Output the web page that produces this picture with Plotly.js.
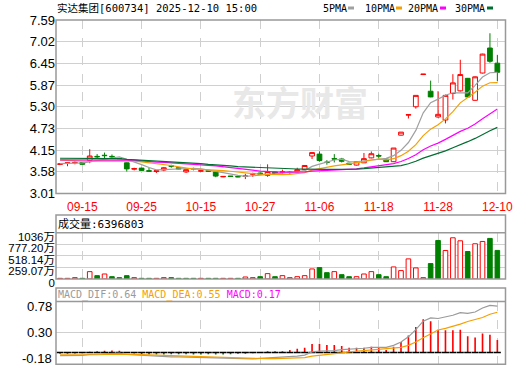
<!DOCTYPE html>
<html><head><meta charset="utf-8">
<script src="https://cdn.plot.ly/plotly-3.0.1.min.js"></script>
<style>html,body{margin:0;padding:0;background:#fff}#c{width:520px;height:365px}</style>
</head><body><div id="c"></div>
<script>
const dates = ['09-10','09-11','09-12','09-15','09-16','09-17','09-18','09-19','09-22','09-23',
 '09-24','09-25','09-26','09-29','09-30','10-09','10-10','10-13','10-14','10-15',
 '10-16','10-17','10-20','10-21','10-22','10-23','10-24','10-27','10-28','10-29',
 '10-30','10-31','11-03','11-04','11-05','11-06','11-07','11-10','11-11','11-12',
 '11-13','11-14','11-17','11-18','11-19','11-20','11-21','11-24','11-25','11-26',
 '11-27','11-28','12-01','12-02','12-03','12-04','12-05','12-08','12-09','12-10'];
const openP = [3.78,3.81,3.82,3.83,3.88,3.99,4.02,3.99,3.94,3.82,
 3.65,3.68,3.61,3.59,3.63,3.74,3.69,3.58,3.67,3.60,
 3.61,3.58,3.45,3.47,3.46,3.46,3.52,3.55,3.49,3.58,
 3.57,3.56,3.58,3.64,4.00,4.05,3.84,3.93,3.92,3.81,
 3.76,3.82,3.95,4.01,3.92,3.85,4.55,5.08,5.30,6.15,
 5.71,5.03,4.95,5.65,5.72,6.05,5.47,6.19,6.85,6.45];
const highP = [3.79,3.83,3.86,3.84,4.18,4.05,4.09,4.04,3.95,3.83,
 3.69,3.69,3.69,3.62,3.71,3.77,3.70,3.64,3.69,3.61,
 3.62,3.58,3.47,3.47,3.47,3.53,3.56,3.56,3.78,3.59,
 3.64,3.60,3.69,3.76,4.10,4.12,3.89,4.05,3.95,3.82,
 3.85,4.08,4.12,4.06,3.93,4.21,4.63,5.09,5.60,6.16,
 5.99,5.71,5.62,6.16,6.54,6.06,6.10,6.70,7.24,6.67];
const lowP = [3.76,3.73,3.78,3.77,3.81,3.92,3.94,3.94,3.92,3.59,
 3.62,3.61,3.59,3.55,3.60,3.69,3.65,3.55,3.62,3.59,
 3.58,3.44,3.44,3.45,3.44,3.39,3.45,3.51,3.45,3.52,
 3.53,3.53,3.57,3.63,3.92,3.85,3.77,3.83,3.83,3.76,
 3.75,3.82,3.94,3.93,3.84,3.84,4.54,4.99,5.25,6.15,
 5.55,5.01,4.86,5.49,5.70,5.55,5.46,6.18,6.46,5.98];
const closeP = [3.79,3.82,3.83,3.78,4.00,3.98,4.01,3.98,3.93,3.66,
 3.67,3.62,3.60,3.61,3.69,3.73,3.66,3.64,3.66,3.61,
 3.60,3.47,3.46,3.46,3.45,3.47,3.53,3.52,3.59,3.53,
 3.58,3.57,3.64,3.75,4.09,3.88,3.83,3.92,3.86,3.78,
 3.85,3.93,4.06,4.00,3.85,4.21,4.63,5.09,5.60,6.16,
 5.56,5.10,5.60,5.93,6.15,5.56,6.09,6.69,6.50,6.21];
const ma5 = [3.80,3.80,3.81,3.82,3.844,3.882,3.92,3.95,3.98,3.912,
 3.85,3.772,3.696,3.632,3.638,3.65,3.658,3.666,3.676,3.66,
 3.634,3.596,3.56,3.52,3.488,3.462,3.474,3.486,3.512,3.528,
 3.55,3.558,3.582,3.614,3.726,3.786,3.838,3.894,3.916,3.854,
 3.848,3.868,3.896,3.924,3.938,4.01,4.15,4.356,4.676,5.138,
 5.408,5.502,5.604,5.67,5.668,5.668,5.866,6.084,6.198,6.21];
const ma10 = [3.89,3.88,3.87,3.86,3.86,3.87,3.87,3.87,3.88,3.878,
 3.866,3.846,3.823,3.806,3.775,3.75,3.715,3.681,3.654,3.649,
 3.642,3.627,3.613,3.598,3.574,3.548,3.535,3.523,3.516,3.508,
 3.506,3.516,3.534,3.563,3.627,3.668,3.698,3.738,3.765,3.79,
 3.817,3.853,3.895,3.92,3.896,3.929,4.009,4.126,4.30,4.538,
 4.709,4.826,4.98,5.173,5.403,5.538,5.684,5.844,5.934,5.939];
const ma20 = [3.90,3.90,3.90,3.90,3.91,3.91,3.91,3.91,3.91,3.90,
 3.89,3.87,3.85,3.84,3.83,3.82,3.81,3.80,3.78,3.764,
 3.754,3.737,3.718,3.702,3.675,3.649,3.625,3.602,3.585,3.579,
 3.574,3.572,3.574,3.581,3.601,3.608,3.617,3.631,3.641,3.649,
 3.662,3.685,3.715,3.742,3.762,3.799,3.854,3.932,4.033,4.164,
 4.263,4.34,4.438,4.547,4.65,4.734,4.847,4.985,5.117,5.239];
const ma30 = [3.94,3.94,3.94,3.94,3.94,3.94,3.94,3.94,3.93,3.91,
 3.90,3.89,3.88,3.87,3.86,3.85,3.84,3.83,3.82,3.80,
 3.78,3.77,3.75,3.74,3.72,3.71,3.70,3.69,3.685,3.678,
 3.671,3.663,3.657,3.656,3.659,3.655,3.649,3.647,3.645,3.649,
 3.655,3.665,3.681,3.694,3.699,3.715,3.747,3.796,3.86,3.945,
 4.011,4.065,4.136,4.219,4.309,4.378,4.464,4.569,4.666,4.756];
const volume = [15,15,30,15,165,75,112,52,30,75,
 30,15,15,15,30,30,15,15,15,15,
 15,15,15,15,15,45,30,52,120,52,
 75,30,52,75,225,255,142,165,97,52,
 52,112,165,97,52,270,188,450,248,30,
 345,862,638,922,855,615,788,840,908,639.68];
const volUp = [1,1,1,0,1,0,1,0,0,0, 1,0,0,1,1,0,0,0,0,1, 0,0,1,1,0,1,1,0,1,0,
 1,1,1,1,1,0,0,1,0,0, 1,1,1,0,0,1,1,1,1,1, 0,0,1,1,1,0,1,1,0,0];
const dif = [-0.047,-0.047,-0.046,-0.044,-0.03,-0.025,-0.016,-0.012,-0.01,-0.03,
 -0.036,-0.045,-0.055,-0.062,-0.064,-0.065,-0.067,-0.07,-0.074,-0.078,
 -0.08,-0.086,-0.09,-0.092,-0.098,-0.10,-0.098,-0.09,-0.084,-0.08,
 -0.072,-0.066,-0.055,-0.04,0.01,0.02,0.02,0.03,0.045,0.05,
 0.055,0.065,0.08,0.085,0.08,0.11,0.16,0.24,0.35,0.48,
 0.53,0.52,0.54,0.57,0.61,0.60,0.62,0.68,0.72,0.71];
const dea = [-0.036,-0.037,-0.038,-0.038,-0.036,-0.034,-0.03,-0.027,-0.024,-0.026,
 -0.028,-0.031,-0.036,-0.041,-0.045,-0.049,-0.052,-0.055,-0.058,-0.062,
 -0.066,-0.07,-0.075,-0.079,-0.084,-0.088,-0.091,-0.093,-0.094,-0.094,
 -0.09,-0.086,-0.082,-0.077,-0.055,-0.045,-0.035,-0.025,-0.005,0.01,
 0.02,0.028,0.035,0.045,0.06,0.065,0.08,0.11,0.16,0.225,
 0.29,0.345,0.37,0.40,0.435,0.475,0.505,0.535,0.585,0.615];
const macd = [-0.02,-0.02,-0.016,-0.012,0.012,0.018,0.028,0.03,0.028,-0.008,
 -0.016,-0.025,-0.03,-0.03,-0.03,-0.028,-0.028,-0.028,-0.03,-0.03,
 -0.028,-0.03,-0.03,-0.026,-0.02,-0.018,-0.01,0.008,0.02,0.02,
 0.02,0.037,0.058,0.074,0.13,0.13,0.116,0.116,0.10,0.074,
 0.074,0.074,0.09,0.08,0.04,0.09,0.16,0.26,0.39,0.51,
 0.48,0.35,0.34,0.34,0.35,0.25,0.23,0.29,0.27,0.19];
const priceTicks = [3.01,3.5825,4.155,4.7275,5.30,5.8725,6.445,7.0175,7.59];
const priceTickText = ['3.01','3.58','4.15','4.73','5.30','5.87','6.45','7.02','7.59'];
const volTicks = [0,259.07,518.14,777.20,1036];
const volTickText = ['0','259.07万','518.14万','777.20万','1036万'];
const dateTicks = ['09-15','09-25','10-15','10-27','11-06','11-18','11-28','12-10'];
const stockTitle = '实达集团[600734] 2025-12-10 15:00';
const volTitle = '成交量:6396803';

const W = 520, H = 365;
const px = v => v / W, py = v => 1 - v / H;
const RED = '#ff0000', GRN = '#008000';
const C5 = '#a0a0a0', C10 = '#f5a000', C20 = '#ff00ff', C30 = '#006e30';
const numFont = 'Arial, "Liberation Sans", "Noto Sans CJK SC", sans-serif';
const monoFont = '"DejaVu Sans Mono", "Noto Sans CJK SC", monospace';

const zeros = dates.map(() => 0);
const traces = [
  {type:'candlestick', x:dates, open:openP, high:highP, low:lowP, close:closeP, xaxis:'x', yaxis:'y',
   increasing:{line:{color:RED, width:1}, fillcolor:'#ffffff'},
   decreasing:{line:{color:GRN, width:1}, fillcolor:GRN}, whiskerwidth:0, hoverinfo:'skip'},
  {type:'scatter', mode:'lines', x:dates, y:ma5, line:{color:C5, width:1.2}, xaxis:'x', yaxis:'y', hoverinfo:'skip'},
  {type:'scatter', mode:'lines', x:dates, y:ma10, line:{color:C10, width:1.2}, xaxis:'x', yaxis:'y', hoverinfo:'skip'},
  {type:'scatter', mode:'lines', x:dates, y:ma20, line:{color:C20, width:1.2}, xaxis:'x', yaxis:'y', hoverinfo:'skip'},
  {type:'scatter', mode:'lines', x:dates, y:ma30, line:{color:C30, width:1.2}, xaxis:'x', yaxis:'y', hoverinfo:'skip'},
  {type:'bar', x:dates, y:volume, width:0.62, xaxis:'x2', yaxis:'y2',
   marker:{color:volUp.map(u => u ? '#ffffff' : GRN), line:{color:volUp.map(u => u ? RED : GRN), width:1}}, hoverinfo:'skip'},
  {type:'bar', x:dates, y:macd, width:0.22, xaxis:'x3', yaxis:'y3',
   marker:{color:macd.map(v => v >= 0 ? RED : GRN), line:{width:0}}, hoverinfo:'skip'},
  {type:'scatter', mode:'markers', x:dates, y:zeros, xaxis:'x3', yaxis:'y3',
   marker:{symbol:'line-ew', size:5, line:{color:'#000000', width:1.5}}, hoverinfo:'skip'},
  {type:'scatter', mode:'lines', x:dates, y:dif, line:{color:'#9a9a9a', width:1.2}, xaxis:'x3', yaxis:'y3', hoverinfo:'skip'},
  {type:'scatter', mode:'lines', x:dates, y:dea, line:{color:'#f5a000', width:1.2}, xaxis:'x3', yaxis:'y3', hoverinfo:'skip'}
];

const xr = [-0.55, 60.1];
const xBase = {type:'category', range:xr, domain:[px(56), px(505.5)], tickvals:dateTicks, ticktext:dateTicks,
  showgrid:true, gridcolor:'#cfcfcf', griddash:'dash', gridwidth:1, zeroline:false, showline:false, ticks:'',
  fixedrange:true};
const gridC = '#d0d0d0';
const layout = {
  width:W, height:H, margin:{l:0,r:0,t:0,b:0}, paper_bgcolor:'#ffffff', plot_bgcolor:'rgba(0,0,0,0)',
  showlegend:false, boxgap:0.2, boxgroupgap:0.2, hovermode:false,
  xaxis: Object.assign({}, xBase, {anchor:'y', rangeslider:{visible:false}, showticklabels:true,
     tickfont:{family:numFont, size:12, color:'#ff0000'}, ticklabelstandoff:4}),
  xaxis2: Object.assign({}, xBase, {anchor:'y2', matches:'x', showticklabels:false}),
  xaxis3: Object.assign({}, xBase, {anchor:'y3', matches:'x', showticklabels:false}),
  yaxis: {domain:[py(193.5), py(20)], range:[3.01, 7.59], tickvals:priceTicks, ticktext:priceTickText,
     tickfont:{family:numFont, size:13, color:'#000000'}, showgrid:true, gridcolor:gridC, gridwidth:1,
     zeroline:false, showline:false, ticks:'', fixedrange:true, anchor:'x'},
  yaxis2: {domain:[py(279), py(232.7)], range:[0, 1036], tickvals:volTicks, ticktext:volTickText,
     tickfont:{family:numFont, size:11.5, color:'#000000'}, ticklabelshift:4, showgrid:true, gridcolor:gridC,
     zeroline:false, showline:false, ticks:'', fixedrange:true, anchor:'x2'},
  yaxis3: {domain:[py(364.3), py(301.5)], range:[-0.18, 0.78], tickvals:[0.30], showticklabels:false,
     showgrid:true, gridcolor:gridC, zeroline:false, showline:false, ticks:'', fixedrange:true, anchor:'x3'},
  shapes: [
    {type:'rect', xref:'paper', yref:'paper', x0:px(56), x1:px(505.5), y0:py(193.5), y1:py(20), line:{color:'#999999', width:1.5}, layer:'above'},
    {type:'rect', xref:'paper', yref:'paper', x0:px(56), x1:px(505.5), y0:py(279), y1:py(215), line:{color:'#999999', width:1.5}, layer:'above'},
    {type:'line', xref:'paper', yref:'paper', x0:px(56), x1:px(505.5), y0:py(232.7), y1:py(232.7), line:{color:'#999999', width:1.5}, layer:'above'},
    {type:'rect', xref:'paper', yref:'paper', x0:px(56), x1:px(505.5), y0:py(364.3), y1:py(288), line:{color:'#999999', width:1.5}, layer:'above'},
    {type:'line', xref:'paper', yref:'paper', x0:px(56), x1:px(505.5), y0:py(301.5), y1:py(301.5), line:{color:'#999999', width:1.5}, layer:'above'},
    {type:'rect', xref:'paper', yref:'paper', x0:px(348), x1:px(354), y0:py(9.5), y1:py(6.5), line:{width:0}, fillcolor:C5},
    {type:'rect', xref:'paper', yref:'paper', x0:px(396), x1:px(402), y0:py(9.5), y1:py(6.5), line:{width:0}, fillcolor:C10},
    {type:'rect', xref:'paper', yref:'paper', x0:px(440), x1:px(446), y0:py(9.5), y1:py(6.5), line:{width:0}, fillcolor:C20},
    {type:'rect', xref:'paper', yref:'paper', x0:px(487), x1:px(493), y0:py(9.5), y1:py(6.5), line:{width:0}, fillcolor:C30}
  ],
  annotations: [
    {xref:'paper', yref:'paper', x:px(300), y:py(102), text:'东方财富', showarrow:false, xanchor:'center', yanchor:'middle',
     font:{family:'"Noto Sans CJK SC", sans-serif', size:34, color:'#e8e8e8', weight:700}},
    {xref:'paper', yref:'paper', x:px(55), y:py(8), text:stockTitle, showarrow:false, xanchor:'left', yanchor:'middle',
     font:{family:monoFont, size:10.5, color:'#000000'}},
    {xref:'paper', yref:'paper', x:px(321), y:py(8), text:'5PMA', showarrow:false, xanchor:'left', yanchor:'middle', font:{family:monoFont, size:10, color:'#000'}},
    {xref:'paper', yref:'paper', x:px(363), y:py(8), text:'10PMA', showarrow:false, xanchor:'left', yanchor:'middle', font:{family:monoFont, size:10, color:'#000'}},
    {xref:'paper', yref:'paper', x:px(406), y:py(8), text:'20PMA', showarrow:false, xanchor:'left', yanchor:'middle', font:{family:monoFont, size:10, color:'#000'}},
    {xref:'paper', yref:'paper', x:px(453), y:py(8), text:'30PMA', showarrow:false, xanchor:'left', yanchor:'middle', font:{family:monoFont, size:10, color:'#000'}},
    {xref:'paper', yref:'paper', x:px(56), y:py(224), text:volTitle, showarrow:false, xanchor:'left', yanchor:'middle',
     font:{family:monoFont, size:11, color:'#000000'}},
    {xref:'paper', yref:'paper', x:px(56), y:py(295), showarrow:false, xanchor:'left', yanchor:'middle',
     text:'<span style="color:#9a9a9a">MACD_DIF:0.64</span> <span style="color:#f5a000">MACD_DEA:0.55</span> <span style="color:#ff00ff">MACD:0.17</span>',
     font:{family:monoFont, size:10, color:'#000000'}},
    {xref:'paper', yref:'y3', x:px(53.5), y:0.78, yshift:-5, text:'0.78', showarrow:false, xanchor:'right', yanchor:'middle', font:{family:numFont, size:13, color:'#000'}},
    {xref:'paper', yref:'y3', x:px(53.5), y:0.30, text:'0.30', showarrow:false, xanchor:'right', yanchor:'middle', font:{family:numFont, size:13, color:'#000'}},
    {xref:'paper', yref:'y3', x:px(53.5), y:-0.18, yshift:6, text:'-0.18', showarrow:false, xanchor:'right', yanchor:'middle', font:{family:numFont, size:13, color:'#000'}}
  ]
};
Plotly.newPlot('c', traces, layout, {staticPlot:true, displayModeBar:false});
</script></body></html>
